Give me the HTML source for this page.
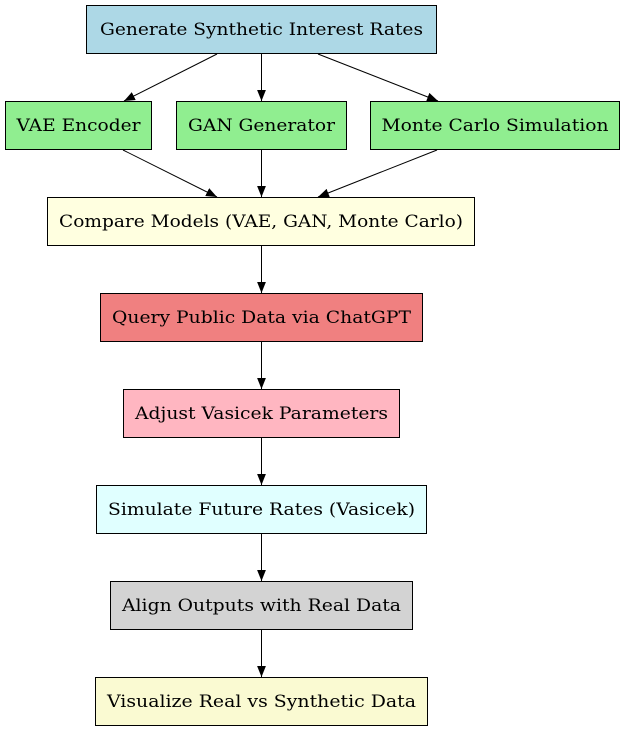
<!DOCTYPE html>
<html><head><style>body{margin:0;background:#fff}svg{display:block}text{font-family:"DejaVu Serif","Liberation Serif",serif;font-size:17px;fill:#000}</style></head>
<body>
<svg width="625" height="731" viewBox="0 0 625 731" xmlns="http://www.w3.org/2000/svg">
<defs><marker id="a" viewBox="0 0 10 10" refX="10" refY="5" markerWidth="11" markerHeight="11" markerUnits="userSpaceOnUse" orient="auto"><path d="M0,1 L10,5 L0,9 z" fill="#000"/></marker></defs>
<g stroke="#000" stroke-width="1">
<rect x="86.5" y="5.5" width="350" height="48" fill="#add8e6"/>
<rect x="5.5" y="101.5" width="146" height="48" fill="#90ee90"/>
<rect x="176.5" y="101.5" width="170" height="48" fill="#90ee90"/>
<rect x="370.5" y="101.5" width="249" height="48" fill="#90ee90"/>
<rect x="47.5" y="197.5" width="427" height="48" fill="#ffffe0"/>
<rect x="100.5" y="293.5" width="322" height="48" fill="#f08080"/>
<rect x="123.5" y="389.5" width="276" height="48" fill="#ffb6c1"/>
<rect x="96.5" y="485.5" width="330" height="48" fill="#e0ffff"/>
<rect x="110.5" y="581.5" width="302" height="48" fill="#d3d3d3"/>
<rect x="95.5" y="677.5" width="332" height="48" fill="#fafad2"/>
<g fill="none" marker-end="url(#a)">
<line x1="217" y1="54" x2="124" y2="101"/>
<line x1="261.5" y1="54" x2="261.5" y2="101"/>
<line x1="318" y1="54" x2="438" y2="101"/>
<line x1="123" y1="150" x2="217" y2="197"/>
<line x1="261.5" y1="150" x2="261.5" y2="197"/>
<line x1="437" y1="150" x2="318" y2="197"/>
<line x1="261.5" y1="246" x2="261.5" y2="293"/>
<line x1="261.5" y1="342" x2="261.5" y2="389"/>
<line x1="261.5" y1="438" x2="261.5" y2="485"/>
<line x1="261.5" y1="534" x2="261.5" y2="581"/>
<line x1="261.5" y1="630" x2="261.5" y2="677"/>
</g></g>
<g text-anchor="middle">
<text x="261.5" y="35" textLength="323" lengthAdjust="spacingAndGlyphs">Generate Synthetic Interest Rates</text>
<text x="78.5" y="131" textLength="124" lengthAdjust="spacingAndGlyphs">VAE Encoder</text>
<text x="261.5" y="131" textLength="147" lengthAdjust="spacingAndGlyphs">GAN Generator</text>
<text x="495" y="131" textLength="227" lengthAdjust="spacingAndGlyphs">Monte Carlo Simulation</text>
<text x="261" y="227" textLength="404" lengthAdjust="spacingAndGlyphs">Compare Models (VAE, GAN, Monte Carlo)</text>
<text x="261.5" y="323" textLength="299" lengthAdjust="spacingAndGlyphs">Query Public Data via ChatGPT</text>
<text x="261.5" y="419" textLength="253" lengthAdjust="spacingAndGlyphs">Adjust Vasicek Parameters</text>
<text x="261.5" y="515" textLength="307" lengthAdjust="spacingAndGlyphs">Simulate Future Rates (Vasicek)</text>
<text x="261.5" y="611" textLength="279" lengthAdjust="spacingAndGlyphs">Align Outputs with Real Data</text>
<text x="261.5" y="707" textLength="309" lengthAdjust="spacingAndGlyphs">Visualize Real vs Synthetic Data</text>
</g>
</svg>
</body></html>
